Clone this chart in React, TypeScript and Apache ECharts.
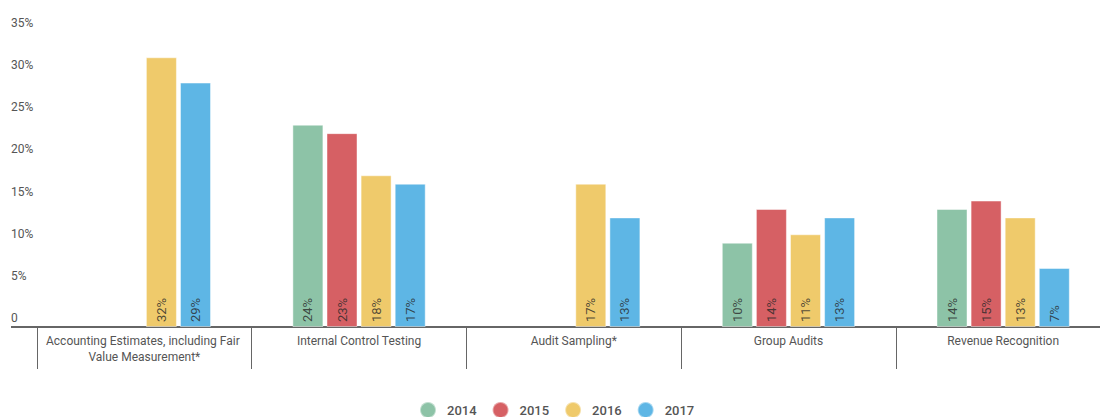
import React, { useEffect, useRef } from "react";
import * as echarts from "echarts";

const categories = [
  "Accounting Estimates, including Fair Value Measurement*",
  "Internal Control Testing",
  "Audit Sampling*",
  "Group Audits",
  "Revenue Recognition",
];
const years = ["2014", "2015", "2016", "2017"];
const v2014 = [null, 24, null, 10, 14];
const v2015 = [null, 23, null, 14, 15];
const v2016 = [32, 18, 17, 11, 13];
const v2017 = [29, 17, 13, 13, 7];
const yTicks = [0, 5, 10, 15, 20, 25, 30, 35];
const colors = ["#8dc3a7", "#d66064", "#efca6b", "#5eb6e5"];

export default function App() {
  const ref = useRef<HTMLDivElement>(null);
  useEffect(() => {
    document.body.style.margin = "0";
    document.body.style.overflow = "hidden";
    const chart = echarts.init(ref.current!, null, { renderer: "svg" });
    const seriesData = [v2014, v2015, v2016, v2017];
    const font = "Roboto";
    chart.setOption({
      animation: false,
      textStyle: { fontFamily: font },
      color: colors,
      grid: { left: 37, right: 0, top: 32, bottom: 90, containLabel: false },
      legend: {
        data: years,
        left: 414,
        top: 396,
        icon: "circle",
        itemWidth: 28,
        itemHeight: 16,
        itemGap: 15,
        textStyle: { color: "#555", fontSize: 13, fontFamily: font, fontWeight: 500 },
      },
      xAxis: {
        type: "category",
        data: categories,
        axisLine: { show: true, lineStyle: { color: "#666", width: 2 } },
        axisTick: { show: true, length: 42, lineStyle: { color: "#666", width: 1 } },
        axisLabel: {
          color: "#555",
          fontSize: 12,
          fontFamily: font,
          width: 212,
          overflow: "break",
          lineHeight: 16,
          margin: 6,
          interval: 0,
        },
      },
      yAxis: {
        type: "value",
        min: 0,
        max: 35,
        interval: 5,
        splitLine: { show: false },
        axisLine: { show: false },
        axisTick: { show: false },
        axisLabel: {
          align: "left",
          margin: 26,
          verticalAlign: "bottom",
          padding: [0, 0, 3, 0],
          color: "#555",
          fontSize: 12,
          fontFamily: font,
          formatter: (v: number) => (yTicks.includes(v) ? (v === 0 ? "0" : v + "%") : ""),
        },
      },
      graphic: [
        {
          type: "line",
          shape: { x1: 11, y1: 327, x2: 38, y2: 327 },
          style: { stroke: "#666", lineWidth: 2 },
        },
      ],
      series: years.map((y, i) => ({
        name: y,
        type: "bar",
        data: seriesData[i],
        barWidth: 31,
        barGap: "10%",
        itemStyle: { color: colors[i], borderColor: "rgba(255,255,255,0.45)", borderWidth: 1 },
        label: {
          show: true,
          position: "insideBottom",
          rotate: 90,
          align: "left",
          verticalAlign: "middle",
          distance: 5,
          color: "rgba(40,40,40,0.8)",
          fontSize: 13,
          fontFamily: font,
          formatter: (p: any) => (p.value == null ? "" : p.value + "%"),
        },
      })),
    });
    return () => chart.dispose();
  }, []);
  return <div ref={ref} style={{ width: 1112, height: 417 }} />;
}
